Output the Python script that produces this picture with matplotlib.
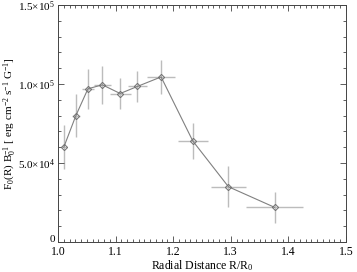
import matplotlib
matplotlib.use('Agg')
import matplotlib.pyplot as plt
from matplotlib.ticker import FixedLocator, MultipleLocator

plt.rcParams['font.family'] = ['Liberation Serif', 'DejaVu Serif']
plt.rcParams['mathtext.fontset'] = 'custom'
plt.rcParams['mathtext.rm'] = 'Liberation Serif'
plt.rcParams['mathtext.it'] = 'Liberation Serif:italic'
plt.rcParams['font.size'] = 8.5

# data
radius = [1.010, 1.031, 1.052, 1.077, 1.108, 1.138, 1.179, 1.234, 1.296, 1.376]
radius_err = [0.005, 0.007, 0.010, 0.015, 0.018, 0.016, 0.024, 0.026, 0.031, 0.050]
flux = [6.0e4, 8.0e4, 9.7e4, 9.95e4, 9.4e4, 9.85e4, 1.045e5, 6.4e4, 3.5e4, 2.2e4]
flux_err = [1.4e4, 1.35e4, 1.27e4, 1.2e4, 1.0e4, 1.0e4, 1.1e4, 1.15e4, 1.3e4, 1.0e4]

ytick_vals = [0, 5e4, 1e5, 1.5e5]
ytick_labels = ['0', r'5.0$\times$10$^4$', r'1.0$\times$10$^5$', r'1.5$\times$10$^5$']

fig = plt.figure(figsize=(3.57, 2.72), dpi=100)
ax = fig.add_axes([0.1625, 0.110, 0.8065, 0.8716])

ax.errorbar(radius, flux, xerr=radius_err, yerr=flux_err, fmt='none',
            ecolor='#bcbcbc', elinewidth=1.0, capsize=0, zorder=1)
ax.plot(radius, flux, color='#808080', lw=0.8, zorder=2)
ax.plot(radius, flux, ls='none', marker='D', ms=3.2,
        mfc='none', mec='#707070', mew=0.7, zorder=3)

ax.set_xlim(1.0, 1.5)
ax.set_ylim(0, 1.5e5)
ax.xaxis.set_major_locator(MultipleLocator(0.1))
ax.xaxis.set_minor_locator(MultipleLocator(0.01))
ax.yaxis.set_major_locator(FixedLocator(ytick_vals))
ax.yaxis.set_minor_locator(MultipleLocator(1e4))
ax.set_yticklabels(ytick_labels)
# the zero label sits a bit higher, clear of the x tick labels
ax.get_yticklabels()[0].set_verticalalignment('baseline')

ax.tick_params(which='both', direction='in', top=True, right=True,
               colors='#444444', labelcolor='black', width=0.6)
ax.tick_params(which='major', length=4)
ax.tick_params(which='minor', length=2)
ax.tick_params(axis='x', pad=2.5)
ax.tick_params(axis='y', pad=2, labelsize=8)
for s in ax.spines.values():
    s.set_color('#444444')
    s.set_linewidth(0.7)

ax.set_xlabel(r'Radial Distance R/R$_0$', va='top')
ax.xaxis.set_label_coords(0.5, -0.066)
ax.set_ylabel(r'F$_0$(R) B$_0^{-1}$ [ erg cm$^{-2}$ s$^{-1}$ G$^{-1}$]',
              fontsize=8, va='center')
ax.yaxis.set_label_coords(-0.168, 0.5)

fig.savefig('out.png', dpi=100)
